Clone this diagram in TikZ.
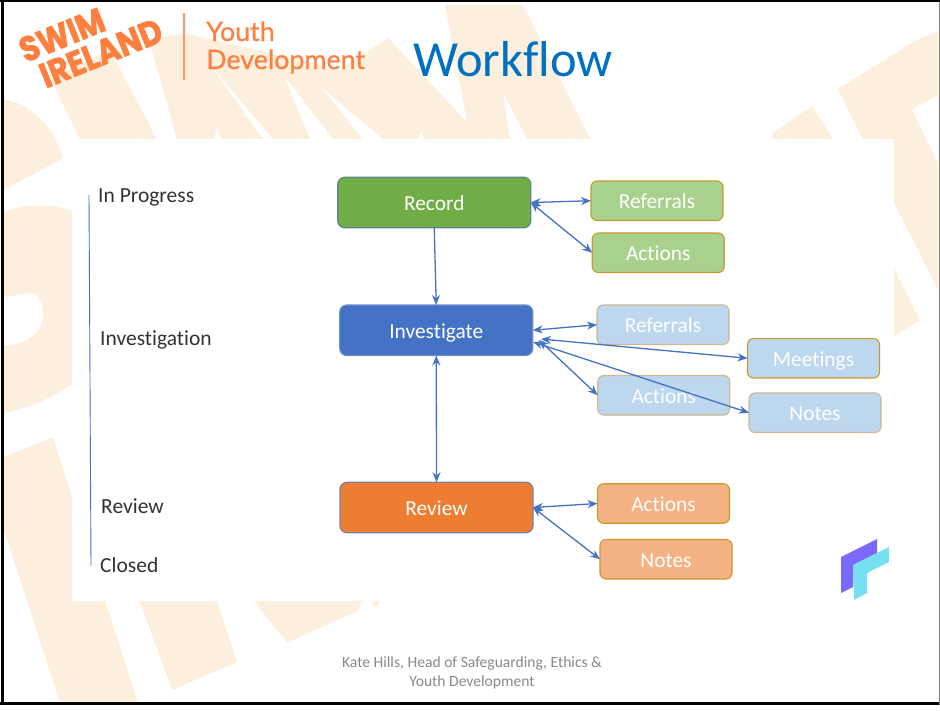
\documentclass[tikz,border=0pt]{standalone}
\usepackage{fontspec}
\setmainfont{Carlito}[Ligatures=NoCommon]
\newfontfamily\logofont{Poppins}[FakeStretch=0.88,BoldFeatures={FakeBold=1.8}]
\newfontfamily\latofont{Lato}[FakeBold=0.5]
\usetikzlibrary{arrows.meta}
\definecolor{beige}{HTML}{FDEFDD}
\definecolor{logoorange}{HTML}{FF7F3F}
\definecolor{arrowblue}{HTML}{4472C4}
\tikzset{
  x=1pt,y=-1pt,
  bgshape/.style={fill=beige,draw=none},
  wedge/.style={fill=white,draw=none},
  mainbox/.style={rounded corners=7pt,minimum width=193pt,minimum height=50.5pt,inner sep=0pt,outer sep=0pt,line width=1.2pt,text=white,font=\fontsize{21.4}{24}\selectfont,text height=17pt,text depth=1pt},
  subbox/.style={rounded corners=6pt,minimum width=132pt,minimum height=39.5pt,inner sep=0pt,outer sep=0pt,line width=1.1pt,text=white,font=\fontsize{21.4}{24}\selectfont,text height=17pt,text depth=1pt},
  greenbox/.style={subbox,fill=greenlt,draw=goldline},
  bluebox/.style={subbox,fill=bluelt,draw=tanline},
  bluegold/.style={subbox,fill=bluelt,draw=goldline},
  orangebox/.style={subbox,fill=orangelt,draw=goldline},
  link/.style={draw=arrowblue,line width=1.3pt,{Stealth[length=10pt,width=8pt]}-{Stealth[length=10pt,width=8pt]}},
  linkone/.style={draw=arrowblue,line width=1.3pt,-{Stealth[length=10pt,width=8pt]}},
  status/.style={anchor=base west,inner sep=0pt,text=black!80,font=\fontsize{21.5}{24}\selectfont},
}
\definecolor{greenlt}{HTML}{A9D18E}
\definecolor{bluelt}{HTML}{BDD7EE}
\definecolor{orangelt}{HTML}{F4B183}
\definecolor{goldline}{HTML}{C99A2E}
\definecolor{tanline}{HTML}{CDB88F}
\begin{document}
\begin{tikzpicture}
\useasboundingbox (0,0) rectangle (940,710);
\fill[white] (0,0) rectangle (940,710);
% background artwork
\fill[bgshape] (50,78) -- (110,50) -- (157,139) -- (80,139) -- cycle;
\fill[bgshape] (150,43) .. controls (165,34) and (185,33) .. (197,36) -- (340,70) -- (388,38) -- (467,122) -- (445,5) -- (523,5) -- (590,139) -- (527,139) -- (503,92) -- (510,139) -- (177,139) -- cycle;
\fill[wedge] (213,68) -- (263,139.5) -- (273,139.5) -- cycle;
\fill[wedge] (285,77) -- (310,139.5) -- (333,139.5) -- cycle;
\fill[wedge] (322,88) -- (363,139.5) -- (383,139.5) -- cycle;
\fill[wedge] (214,139.5) -- (217,128) -- (222,139.5) -- cycle;
\fill[wedge] (418,139.5) -- (421,133) -- (426,139.5) -- cycle;
\fill[bgshape] (4,100) .. controls (30,102) and (52,125) .. (63,158) -- (4,190) -- cycle;
\fill[bgshape] (4,212) .. controls (25,203) and (55,203) .. (80,214) -- (80,378) .. controls (55,397) and (30,408) .. (4,413) -- cycle;
\fill[wedge] (4,297) -- (30,293) .. controls (40,293) and (44,305) .. (43,315) .. controls (42,330) and (30,345) .. (4,345) -- cycle;
\fill[bgshape] (4,457) -- (53,437) -- (138,703) -- (60,703) -- (4,530) -- cycle;
\fill[bgshape] (110,520) -- (190,520) -- (237,662) -- (172,690) -- cycle;
\fill[bgshape] (230,570) -- (380,570) -- (357,611) -- (287,643) -- cycle;
\fill[bgshape] (372,600) -- (382,600) -- (375,607) -- cycle;
\fill[bgshape] (838,89) -- (913,42) -- (938,31) -- (938,290) -- (880,175) -- cycle;
\fill[wedge] (912,110) -- (938,95) -- (938,163) -- cycle;
\fill[bgshape] (772,133) -- (812,106) -- (840,150) -- (772,150) -- cycle;
\fill[bgshape] (880,240) -- (920,320) -- (880,345) -- cycle;
\fill[white] (72,139) rectangle (894,601);
% frame
\draw[black!50,line width=1pt] (939,0) -- (939,705);
\draw[black,line width=2.5pt] (0,1) -- (940,1);
\draw[black,line width=3pt] (2.5,0) -- (2.5,705);
\draw[black,line width=3pt] (0,703.5) -- (939,703.5);
% header
\node[inner sep=0pt,text=logoorange,rotate=22,font=\logofont\bfseries\fontsize{35}{35}\selectfont] (swim) at (62,35) {SWIM};
\node[inner sep=0pt,text=logoorange,rotate=22,font=\logofont\bfseries\fontsize{35}{35}\selectfont] (ireland) at (101,53) {IRELAND};
\coordinate (ruletop) at (184,13);
\coordinate (rulebot) at (184,80);
\draw[logoorange!80,line width=1.2pt] (ruletop) -- (rulebot);
\node[anchor=base west,inner sep=0pt,text=logoorange,font=\latofont\fontsize{26.8}{27}\selectfont] (youth) at (206,41) {Youth};
\node[anchor=base west,inner sep=0pt,text=logoorange,font=\latofont\fontsize{26.8}{27}\selectfont] (devel) at (206,69) {Development};
\node[anchor=base west,inner sep=0pt,text={rgb,255:red,0;green,112;blue,192},font=\fontsize{50.5}{51}\selectfont] (title) at (413,76) {Workflow};
% status column
\coordinate (railtop) at (89,195);
\coordinate (railbot) at (91,566);
\draw[arrowblue,line width=0.9pt] (railtop) -- (railbot);
\node[status] (s1) at (98,202) {In Progress};
\node[status] (s2) at (100,345.5) {Investigation};
\node[status] (s3) at (101,513.5) {Review};
\node[status] (s4) at (100,572.5) {Closed};
% main boxes
\node[mainbox,fill={rgb,255:red,112;green,173;blue,71},draw={rgb,255:red,88;green,135;blue,135}] (rec) at (434.25,202.5) {Record};
\node[mainbox,fill=arrowblue,draw={rgb,255:red,110;green,140;blue,200}] (inv) at (436.25,330.25) {Investigate};
\node[mainbox,fill={rgb,255:red,237;green,125;blue,49},draw={rgb,255:red,125;green,130;blue,165}] (rev) at (436.5,507.5) {Review};
% sub boxes
\node[greenbox] (ref1) at (657,200.75) {Referrals};
\node[greenbox] (act1) at (658.25,252.75) {Actions};
\node[bluebox] (ref2) at (663,324.75) {Referrals};
\node[bluegold] (meet) at (813.5,358.25) {Meetings};
\node[bluebox] (act2) at (663.75,395.25) {Actions};
\node[bluebox] (note2) at (815,412.75) {Notes};
\node[orangebox] (act3) at (663.5,503.5) {Actions};
\node[orangebox] (note3) at (666,559.25) {Notes};
% connectors
\coordinate (invM) at (541,339);
\coordinate (invA) at (539,340);
\coordinate (invN) at (533,342);
\draw[linkone] (rec.south) -- (inv.north);
\draw[link] (inv.south) -- (rev.north);
\draw[link] (rec.east) -- (ref1.west);
\draw[link] (rec.east) -- (act1.west);
\draw[link] (inv.east) -- (ref2.west);
\draw[link] (invM) -- (meet.west);
\draw[link] (invA) -- (act2.west);
\draw[link] (invN) -- (note2.west);
\draw[link] (rev.east) -- (act3.west);
\draw[link] (rev.east) -- (note3.west);
% corner mark
\fill[fill={rgb,255:red,123;green,104;blue,255}] (841,557) -- (877,539) -- (877,553) -- (853,565) -- (853,587) -- (841,593) -- cycle;
\fill[fill={rgb,255:red,118;green,224;blue,240}] (853,565) -- (889,547) -- (889,562) -- (867,573) -- (867,593) -- (854,600) -- cycle;
% footer
\node[inner sep=0pt,align=center,anchor=base,text={rgb,255:red,137;green,137;blue,137},font=\fontsize{15.6}{19}\selectfont] (foot) at (472,686) {Kate Hills, Head of Safeguarding, Ethics \&\\Youth Development};
\end{tikzpicture}
\end{document}
